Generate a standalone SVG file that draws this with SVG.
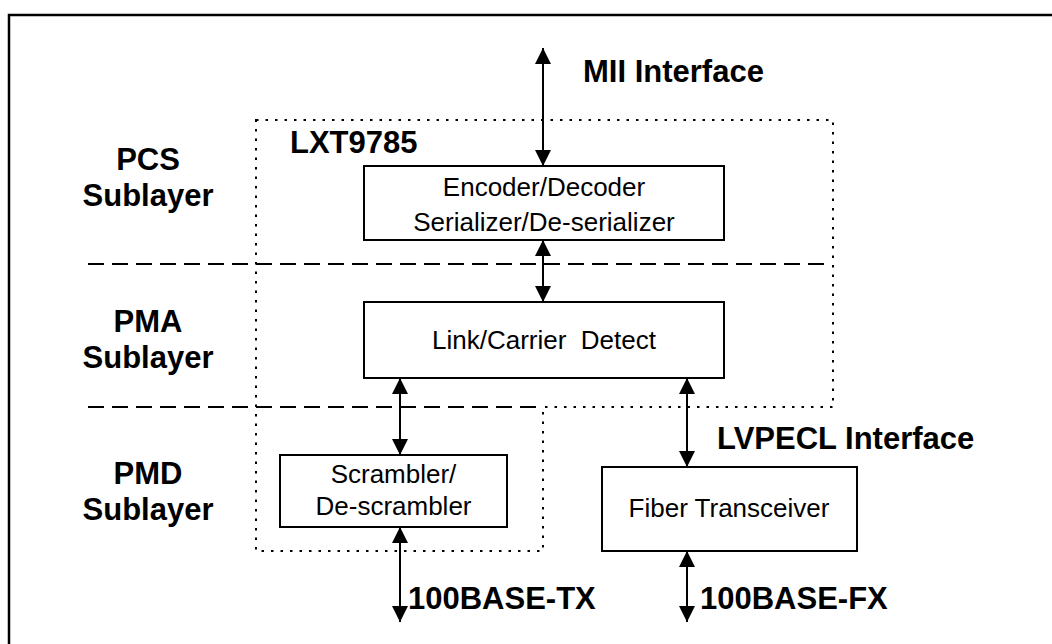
<svg xmlns="http://www.w3.org/2000/svg" width="1052" height="644" viewBox="0 0 1052 644">
<style>
.box{fill:#fff;stroke:#000;stroke-width:2}
.t{font-family:"Liberation Sans",Arial,sans-serif;font-size:26px;fill:#000;text-anchor:middle}
.b{font-family:"Liberation Sans",Arial,sans-serif;font-size:31px;font-weight:bold;fill:#000}
.bc{text-anchor:middle}
.arr{stroke:#000;stroke-width:2;fill:none;marker-start:url(#ah);marker-end:url(#ah)}
.dash{stroke:#000;stroke-width:2;fill:none;stroke-dasharray:16 8}
.dot{stroke:#000;stroke-width:2;fill:none;stroke-dasharray:2.5 7}
</style>
<defs>
<marker id="ah" viewBox="0 0 16 16" refX="16" refY="8" markerWidth="16" markerHeight="16" markerUnits="userSpaceOnUse" orient="auto-start-reverse">
<path d="M0,0 L16,8 L0,16 z" fill="#000"/>
</marker>
</defs>
<rect width="1052" height="644" fill="#fff"/>
<path d="M9,644 L9,15 L1052,15" fill="none" stroke="#000" stroke-width="2.5"/>

<g id="layers">
<path class="dot" d="M256,120 H833 V407 H543 V551 H256 Z"/>
<line class="dash" x1="88" y1="264" x2="832" y2="264"/>
<line class="dash" x1="88" y1="407" x2="543" y2="407"/>
</g>

<g id="labels">
<text class="b bc" x="148" y="170">PCS</text>
<text class="b bc" x="148" y="206">Sublayer</text>
<text class="b bc" x="148" y="332">PMA</text>
<text class="b bc" x="148" y="368">Sublayer</text>
<text class="b bc" x="148" y="484">PMD</text>
<text class="b bc" x="148" y="520">Sublayer</text>
<text class="b" x="290" y="153">LXT9785</text>
<text class="b" x="583" y="82">MII Interface</text>
<text class="b" x="717" y="449">LVPECL Interface</text>
<text class="b" x="408" y="609">100BASE-TX</text>
<text class="b" x="700" y="609">100BASE-FX</text>
</g>

<g id="connectors">
<line class="arr" x1="543" y1="48" x2="543" y2="166"/>
<line class="arr" x1="543" y1="240" x2="543" y2="302"/>
<line class="arr" x1="400" y1="378" x2="400" y2="455"/>
<line class="arr" x1="687" y1="378" x2="687" y2="467"/>
<line class="arr" x1="400" y1="527" x2="400" y2="622"/>
<line class="arr" x1="687" y1="551" x2="687" y2="622"/>
</g>

<g id="encoder">
<rect class="box" x="364" y="166" width="360" height="74"/>
<text class="t" x="544" y="196">Encoder/Decoder</text>
<text class="t" x="544" y="231">Serializer/De-serializer</text>
</g>
<g id="link">
<rect class="box" x="364" y="302" width="360" height="76"/>
<text class="t" x="544" y="349" xml:space="preserve">Link/Carrier  Detect</text>
</g>
<g id="scrambler">
<rect class="box" x="280" y="455" width="227" height="72"/>
<text class="t" x="393.5" y="483">Scrambler/</text>
<text class="t" x="393.5" y="515">De-scrambler</text>
</g>
<g id="fiber">
<rect class="box" x="602" y="467" width="255" height="84"/>
<text class="t" x="729" y="517">Fiber Transceiver</text>
</g>
</svg>
